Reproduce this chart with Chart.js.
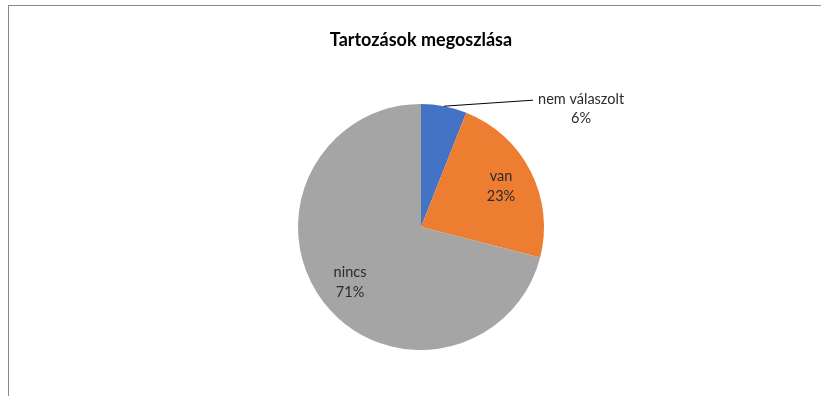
<!DOCTYPE html>
<html>
<head>
<meta charset="utf-8">
<script src="https://cdn.jsdelivr.net/npm/chart.js@4"></script>
<style>
  html, body { margin: 0; padding: 0; background: #fff; }
  #wrap { position: relative; width: 821px; height: 396px; }
  #frame {
    position: absolute; left: 8px; top: 5px; right: -2px; bottom: -2px;
    border-top: 1px solid #8a8a8a; border-left: 1px solid #8a8a8a;
  }
  canvas { position: absolute; left: 0; top: 0; }
</style>
</head>
<body>
<div id="wrap">
  <div id="frame"></div>
  <canvas id="pieChart" width="821" height="396"></canvas>
</div>
<script>
// adatok
const categories = ['nem válaszolt', 'van', 'nincs'];
const shares = [6, 23, 71];
const colors = ['#4472C4', '#ED7D31', '#A5A5A5'];
const outsideLabels = [true, false, false];

// szeletfeliratok: kategória + százalék
const sliceLabels = {
    id: 'sliceLabels',
    afterDatasetsDraw(chart) {
        const ctx = chart.ctx;
        const meta = chart.getDatasetMeta(0);
        const total = shares.reduce((a, b) => a + b, 0);
        ctx.save();
        ctx.font = '14.5px Lato, "Liberation Sans", sans-serif';
        ctx.fillStyle = '#2b2b2b';
        ctx.textBaseline = 'middle';
        meta.data.forEach((arc, i) => {
            const p = arc.getProps(['x', 'y', 'startAngle', 'endAngle', 'outerRadius'], true);
            const mid = (p.startAngle + p.endAngle) / 2;
            const pct = Math.round(shares[i] / total * 100) + '%';
            if (outsideLabels[i]) {
                const ex = p.x + Math.cos(mid) * p.outerRadius;
                const ey = p.y + Math.sin(mid) * p.outerRadius;
                const lx = ex + 89, ly = ey - 6;
                ctx.strokeStyle = '#000';
                ctx.lineWidth = 1;
                ctx.beginPath();
                ctx.moveTo(ex, ey);
                ctx.lineTo(lx, ly);
                ctx.stroke();
                const w = ctx.measureText(categories[i]).width;
                const cx = lx + 5 + w / 2;
                ctx.textAlign = 'center';
                ctx.fillText(categories[i], cx, ey - 7);
                ctx.fillText(pct, cx, ey + 12);
            } else {
                const r = p.outerRadius * 0.73;
                const cx = p.x + Math.cos(mid) * r;
                const cy = p.y + Math.sin(mid) * r;
                ctx.textAlign = 'center';
                ctx.fillText(categories[i], cx, cy - 10);
                ctx.fillText(pct, cx, cy + 10);
            }
        });
        ctx.restore();
    }
};

const pieChart = new Chart(document.getElementById('pieChart'), {
    type: 'pie',
    data: {
        labels: categories,
        datasets: [{
            data: shares,
            backgroundColor: colors,
            borderWidth: 0
        }]
    },
    options: {
        responsive: false,
        animation: false,
        layout: { padding: { left: 21, right: 0, top: 0, bottom: 46 } },
        plugins: {
            legend: { display: false },
            tooltip: { enabled: false },
            title: {
                display: true,
                text: 'Tartozások megoszlása',
                color: '#000',
                font: { family: 'Lato, "Liberation Sans", sans-serif', size: 18, weight: 'bold', lineHeight: 1.2 },
                padding: { top: 29, bottom: 53.4 }
            }
        }
    },
    plugins: [sliceLabels]
});
</script>
</body>
</html>
